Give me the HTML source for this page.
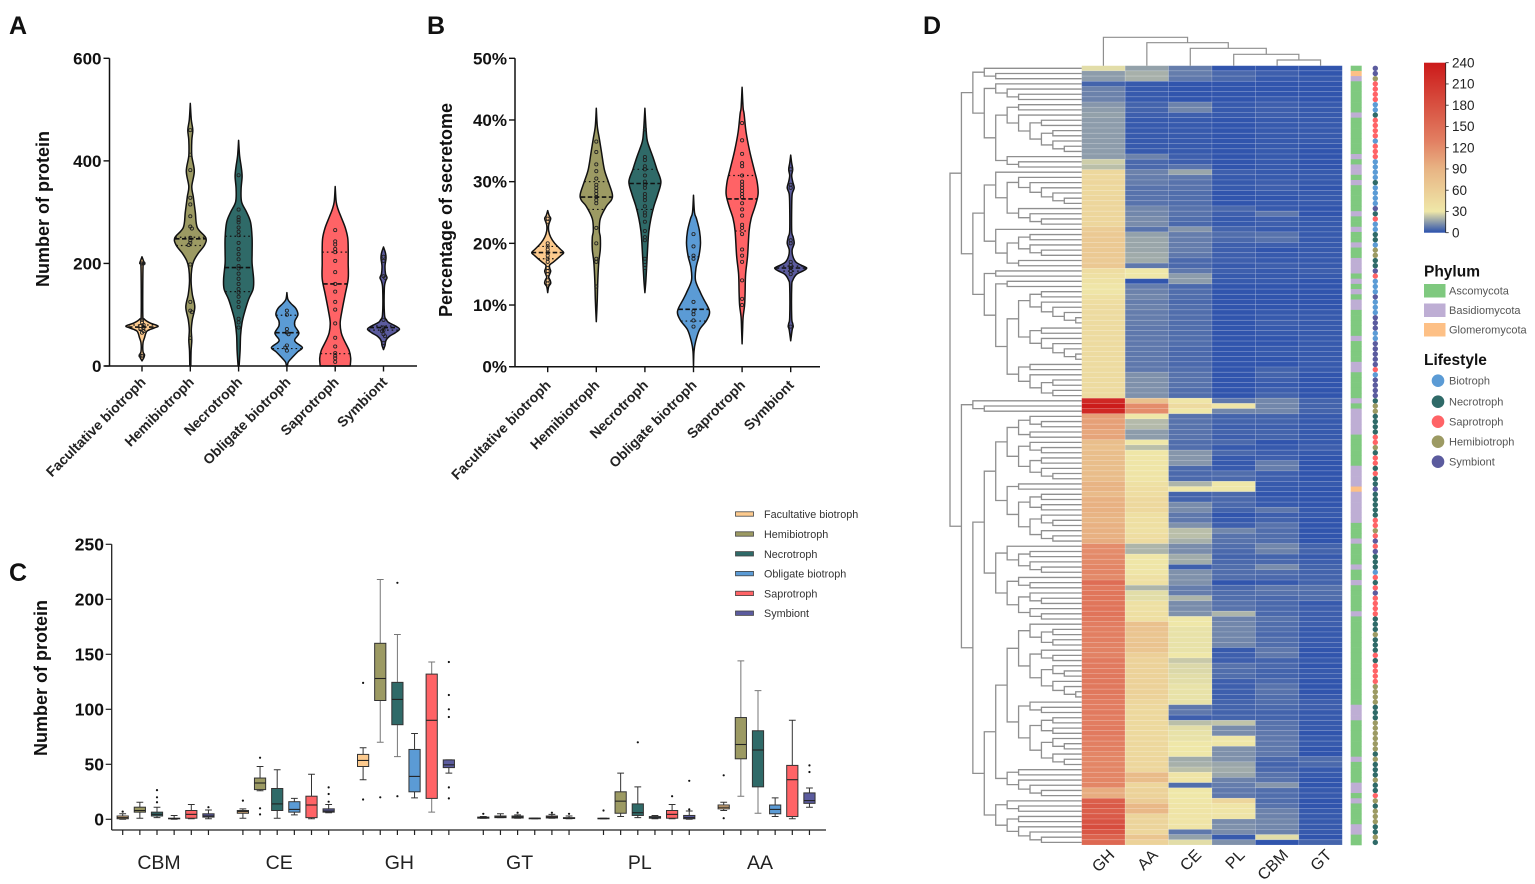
<!DOCTYPE html>
<html lang="en">
<head>
<meta charset="utf-8">
<title>Secretome protein analysis by fungal lifestyle</title>
<style>
html,body{margin:0;padding:0;background:#fff;width:1535px;height:884px;overflow:hidden}
svg{display:block;position:absolute;left:0;top:0;font-family:"Liberation Sans",sans-serif;filter:blur(.35px)}
.panel{font-size:25px;font-weight:700;fill:#111}
.ytitle{font-size:18px;font-weight:700;fill:#111}
.leg{font-size:10.8px;fill:#333}
.leg2{font-size:11px;fill:#555}
.legtitle{font-size:15.5px;font-weight:700;fill:#111}
</style>
</head>
<body>
<svg id="figure" width="1535" height="884" viewBox="0 0 1535 884" xmlns="http://www.w3.org/2000/svg">
  <defs>
    <linearGradient id="heatGrad" x1="0" y1="1" x2="0" y2="0">
      <stop offset="0" stop-color="#2a50ad"/>
      <stop offset="0.125" stop-color="#efe7a8"/>
      <stop offset="0.375" stop-color="#e8b484"/>
      <stop offset="0.54" stop-color="#e27f62"/>
      <stop offset="1" stop-color="#cc1a1a"/>
    </linearGradient>
  </defs>
  <text class="panel" x="9" y="34">A</text>
  <text class="panel" x="427" y="34">B</text>
  <text class="panel" x="9" y="581">C</text>
  <text class="panel" x="923" y="34">D</text>

  <text class="ytitle" transform="translate(49,209) rotate(-90)" text-anchor="middle">Number of protein</text>
  <text class="ytitle" transform="translate(452,210) rotate(-90)" text-anchor="middle">Percentage of secretome</text>
  <text class="ytitle" transform="translate(47,678) rotate(-90)" text-anchor="middle">Number of protein</text>

  <g id="panelA"></g>
  <g id="panelB"></g>
  <g id="panelC"></g>
  <g id="panelD"></g>

  <g>
    <g><rect x="735.5" y="511.8" width="18" height="4.4" fill="#fcca8e" stroke="#444" stroke-width=".8"/><text class="leg" x="764" y="518">Facultative biotroph</text></g>
    <g><rect x="735.5" y="531.8" width="18" height="4.4" fill="#9c9a63" stroke="#444" stroke-width=".8"/><text class="leg" x="764" y="538">Hemibiotroph</text></g>
    <g><rect x="735.5" y="551.6" width="18" height="4.4" fill="#2f6a68" stroke="#444" stroke-width=".8"/><text class="leg" x="764" y="558">Necrotroph</text></g>
    <g><rect x="735.5" y="571.4" width="18" height="4.4" fill="#5b9bd5" stroke="#444" stroke-width=".8"/><text class="leg" x="764" y="577.6">Obligate biotroph</text></g>
    <g><rect x="735.5" y="591.2" width="18" height="4.4" fill="#ff6366" stroke="#444" stroke-width=".8"/><text class="leg" x="764" y="597.4">Saprotroph</text></g>
    <g><rect x="735.5" y="611" width="18" height="4.4" fill="#5b5b9e" stroke="#444" stroke-width=".8"/><text class="leg" x="764" y="617">Symbiont</text></g>
  </g>

  <g>
    <rect x="1424" y="62.7" width="21.7" height="170" fill="url(#heatGrad)"/>
    <line x1="1445.7" x2="1445.7" y1="62.7" y2="232.7" stroke="#222" stroke-width=".8"/>
    <g id="colorbarTicks"></g>
  </g>

  <g>
    <text class="legtitle" x="1424" y="276.5">Phylum</text>
    <g><rect x="1424" y="284" width="21.5" height="13.5" fill="#7fc97f"/><text class="leg2" x="1449" y="294.5">Ascomycota</text></g>
    <g><rect x="1424" y="303.5" width="21.5" height="13.5" fill="#beaed4"/><text class="leg2" x="1449" y="314">Basidiomycota</text></g>
    <g><rect x="1424" y="323" width="21.5" height="13.5" fill="#fdc086"/><text class="leg2" x="1449" y="333.5">Glomeromycota</text></g>
  </g>
  <g>
    <text class="legtitle" x="1424" y="365">Lifestyle</text>
    <g><circle cx="1438" cy="380.7" r="6.3" fill="#5b9bd5"/><text class="leg2" x="1449" y="384.7">Biotroph</text></g>
    <g><circle cx="1438" cy="401.7" r="6.3" fill="#2f6a68"/><text class="leg2" x="1449" y="405.7">Necrotroph</text></g>
    <g><circle cx="1438" cy="421.7" r="6.3" fill="#ff6366"/><text class="leg2" x="1449" y="425.7">Saprotroph</text></g>
    <g><circle cx="1438" cy="441.7" r="6.3" fill="#9c9a63"/><text class="leg2" x="1449" y="445.7">Hemibiotroph</text></g>
    <g><circle cx="1438" cy="461.7" r="6.3" fill="#5b5b9e"/><text class="leg2" x="1449" y="465.7">Symbiont</text></g>
  </g>
</svg>
<script>
/* ---------- shared categories ---------- */
const lifestyles = ["Facultative biotroph","Hemibiotroph","Necrotroph","Obligate biotroph","Saprotroph","Symbiont"];
const lifestyleColors = ["#fcca8e","#9c9a63","#2f6a68","#5b9bd5","#ff6366","#5b5b9e"];

/* ---------- Panel A violins ---------- */
const panelATicks = [0,200,400,600];
const panelALevels = [
 [213,205,200,192,100,92,84,78,74,68,55,45,28,22,17,10],
 [512,480,460,440,410,380,350,330,300,270,250,235,220,205,190,165,140,115,90,70,50,30,0],
 [440,410,390,370,345,320,300,280,250,220,200,170,150,130,105,85,60,30,0],
 [143,130,122,112,100,88,78,64,52,46,36,28,18,8,0],
 [350,320,305,290,270,250,230,200,170,140,110,85,65,50,30,15,0],
 [232,220,210,195,180,172,165,150,100,90,85,78,72,65,58,50,40,32]
];
const panelADensity = [
 [0,1.5,2.2,1,.8,2,8,16,12,5,2.5,1,1,2.5,2,0],
 [0,1,2.5,1.5,1.5,4,1.5,3,5,7,15.5,14,8,3.5,1.5,.8,2,4.5,2,1,1.5,.8,.5],
 [0,1,2.5,3.5,2.5,3,8,12,13.5,13.5,13.5,15,14.5,10,6,3.5,2,1.5,.5],
 [0,1,4,9,11,8,8,12,8,9,15.5,11,6,1.5,.5],
 [0,1,3,6,10,12.5,13,13,13,10,7,5,6,9,14,15.5,15],
 [0,2,2.5,1.5,2,3.5,2,.8,1,3,5,12,16,12,6,2.5,1.5,0]
];
const panelAMedian = [76,248,192,65,160,75];
const panelAQ1 = [70,235,145,34,24,70];
const panelAQ3 = [80,251,253,99,222,78];
const panelAPoints = [
 [200,200,20,20,65,68,72,75,78,80,85,90],
 [460,412,382,328,315,292,272,268,250,245,240,236,198,125,108,105,55],
 [372,305,290,285,280,270,262,255,240,228,218,208,195,190,180,170,160,150,143,135,125,115,92,85,75],
 [108,100,72,65,62,40,36,30],
 [265,243,237,228,222,205,183,160,145,125,110,83,55,38,25,20,15,8],
 [213,205,175,172,90,75,70,68,62,58,45]
];

/* ---------- Panel B violins ---------- */
const panelBTicks = [0,10,20,30,40,50];
const panelBLevels = [
 [25.3,24.5,24,23,22,21,20,19,18.5,18,17,16.5,16,15.5,15,14.5,14,13.5,13,12],
 [41.9,39,37,35,32,30,28,27,26,24,22,21,19,17,14,11,9,7.3],
 [41.9,39,37,36,34,32,30,28,26,24,22,20,17,14,12],
 [27.8,25,24,22,20,18,16,14,12,11,9,7.5,6,4,2.5,0],
 [45.3,42,41,38,35,32,30,28,26,24,22,18,15,12,10,8,6,3.7],
 [34.3,33,32,31,30,29,28,26,22,21,20,19,18,17,16.5,16,15.5,15,14,13,8,7,6.5,6,4.2]
];
const panelBDensity = [
 [0,1.5,3,1,1,3,7,13,16,13,6,2,2,3,2,1,2.5,3,1,0],
 [0,1,3,5,8,12,16,15,10,4,3,4,4,2.5,1.5,1,.5,0],
 [0,1,2,3.5,8,12,16,13,9,6,4,3,2,1,0],
 [0,1,3,6,7,5.5,2.5,2,7,10,16,13,6,2,.5,0],
 [0,1,2,4,7.5,12,15,16,13,9,7,5.5,3.5,3,2.5,1,.5,0],
 [0,1,2,1,2,3.5,1.5,1,1,2.5,3.5,1.5,2,5,10,16,12,6,2,1,1,2,2.5,1.5,0]
];
const panelBMedian = [18.5,27.5,29.7,9.3,27.2,16];
const panelBQ1 = [17.5,25.5,25.5,7.4,22,15.5];
const panelBQ3 = [19.5,30,32,17.8,31,16.3];
const panelBPoints = [
 [24,23.5,20,19.5,19,18.5,18,17.5,17,16,15.5,15,14,13.5],
 [36.5,34.8,32.8,31.7,30.5,29.5,29,28.5,28,27.5,27,26.5,22.5,20,17.5,17,13],
 [38.5,34,33.5,32.5,32,31,30,29.5,29,28,27.5,27,26,25,24.5,23.5,22,21,20.5,17.5,16.5,16],
 [21.5,19.5,18,17.5,10.5,9,8.5,7.5,6.5],
 [39.5,36.7,34.5,33,32.5,31,30,29.5,29,28.5,28,27.5,26.5,25.5,24.5,23,22.5,21.5,19,18,17,14,11,10],
 [32,29.5,29,20.5,20,17,16.5,16,15.5,15,6.5]
];

/* ---------- Panel C boxes: one row per enzyme family, one value per lifestyle ---------- */
const families = ["CBM","CE","GH","GT","PL","AA"];
const panelCTicks = [0,50,100,150,200,250];
const boxLow = [
 [0,1,1.5,0,.5,.5],[1,26,1,4,.5,6],[36,70,57,19.5,6.5,42],
 [1,1.5,1,.5,1,.5],[.5,2.5,1.5,.5,.5,0],[8,21,5.5,2.5,.5,11]];
const boxQ1 = [
 [.5,6.5,3,.5,1,2],[5.5,27,8,6.5,1.5,6.5],[48,108,86,25,19,47],
 [1,1.5,1.2,.7,1.2,.7],[.5,5.5,3.5,1,1,.5],[9.5,55,29.5,5,2.5,14.5]];
const boxMedian = [
 [1.5,8,4.5,.7,4.5,3],[7,33,14,9,13,7.5],[53.5,128,109,39,90,49.5],
 [1.5,2,2,1,2,1],[.7,16.5,6,1.5,4.5,1.5],[11,68,63,9,36,17]];
const boxQ3 = [
 [3,11,6.5,1,8,5],[8,37.5,28,16,21,9.5],[59,160,124.5,63.5,132,54],
 [2,3,3,1,3,1.5],[1,25,14,2.5,8,3.5],[13,92.5,80.5,13,49,24]];
const boxHigh = [
 [5,15.5,11,3.5,13.5,8.5],[9.5,48,45,19,41,13.5],[65,218,168,78,143,54],
 [2.5,5,4,1,4.5,3],[1,42,29.5,3.5,13.5,7.5],[15.5,144,117,19.5,90,28.5]];
const boxOutliers = [
 [[7],[],[15.5,20,26.5],[],[],[11]],
 [[17],[56,10,4.5],[],[],[],[16,23,29]],
 [[18,124],[20],[215,21],[],[],[143,113,100,93,29,19]],
 [[5],[],[6],[],[6],[5]],
 [[8],[],[70],[],[21],[9,35]],
 [[1,40],[],[],[],[],[43,49]]
];

/* ---------- Panel D heatmap ---------- */
const heatColumns = ["GH","AA","CE","PL","CBM","GT"];
const colorbarTicks = [0,30,60,90,120,150,180,210,240];
const valuesGH = [28,15,15,4,10,10,10,14,15,16, 15,15,15,15,15,15,15,15,25,22,
 48,48,50,48,48,50,50,50,50,50, 50,62,65,65,65,65,65,64,66,42,
 38,36,32,32,38,42,44,44,44,44, 44,44,44,44,44,44,44,44,44,44,
 44,44,44,44,225,238,225,105,105,105, 100,102,78,76,78,78,78,78,80,80,
 90,90,82,92,92,92,90,88,92,92, 92,95,120,120,122,122,125,125,122,150,
 135,140,140,140,142,142,138,132,130,130, 130,128,128,128,135,135,135,138,138,138,
 138,135,132,132,135,132,132,135,135,132, 130,130,125,125,125,125,125,125,125,95,
 95,165,170,165,170,178,185,175,160,155];
const valuesAA = [16,19,19,2,2,2,2,4,4,3, 2,2,2,2,2,2,2,10,5,5,
 10,9,9,7,7,7,7,11,11,12, 12,7,16,17,17,17,18,18,8,30,
 30,1,9,10,11,9,10,9,9,9, 8,8,8,8,8,8,8,8,8,13,
 13,13,13,13,75,120,120,30,21,21, 15,15,30,22,31,32,32,32,34,34,
 38,42,42,48,48,48,40,40,40,38, 42,44,20,20,31,31,32,32,38,38,
 20,28,28,38,38,40,40,75,72,70, 70,72,70,58,55,55,55,55,56,56,
 56,55,50,48,48,48,46,46,46,48, 48,48,48,50,50,50,82,80,50,55,
 55,62,85,85,52,52,52,50,70,55];
const valuesCE = [9,9,8,1,1,1,1,10,11,3, 2,2,2,2,2,2,2,3,3,7,
 17,8,7,7,6,6,6,7,7,6, 5,14,9,9,9,9,8,5,5,8,
 15,15,5,6,6,5,6,6,6,6, 6,6,6,6,5,5,5,5,6,7,
 7,7,6,6,32,45,30,7,7,7, 7,7,6,6,14,14,14,5,5,5,
 20,30,4,4,12,12,8,8,13,22, 22,19,12,12,18,18,3,13,13,13,
 9,9,20,12,12,13,30,30,29,29, 29,29,29,30,24,27,27,28,28,29,
 29,29,29,8,8,3,22,28,29,29, 30,30,30,18,19,22,33,33,6,30,
 30,31,33,34,34,33,33,8,16,28];
const valuesPL = [1,5,5,1,1,1,1,2,2,2, 1,1,1,1,1,1,1,1,1,1,
 3,2,2,2,1,1,1,5,3,2, 2,4,6,5,3,3,3,3,2,3,
 2,2,1,1,1,1,1,1,1,1, 1,1,1,1,1,1,1,1,1,1,
 1,1,1,1,8,32,11,4,4,3, 4,3,5,2,5,2,2,2,6,5,
 30,30,5,5,5,4,1,2,3,11, 7,7,6,5,4,5,6,6,6,1,
 5,6,6,7,7,20,10,11,11,11, 11,11,2,3,3,7,6,6,3,3,
 3,3,4,4,4,4,23,12,12,31, 31,13,13,13,17,18,17,10,9,8,
 8,50,34,34,33,12,13,12,2,13];
const valuesCBM = [1,3,2,1,1,1,2,3,3,3, 2,2,2,2,2,2,2,2,2,2,
 2,2,3,3,2,1,2,2,8,3, 3,2,7,7,3,1,2,2,3,2,
 2,2,1,1,1,1,1,2,2,3, 2,2,1,1,2,2,1,1,4,4,
 3,2,3,4,11,11,11,4,4,3, 4,4,1,2,3,3,9,9,3,3,
 2,2,1,2,2,8,3,4,7,6, 6,6,11,10,4,5,12,6,5,2,
 8,7,5,5,5,5,7,6,6,5, 6,6,8,8,4,5,4,4,5,7,
 7,6,6,5,4,4,7,7,8,8, 8,8,8,5,4,5,7,7,14,6,
 6,6,7,10,10,11,11,10,28,1];
const valuesGT = [1,1,2,1,1,1,1,2,2,2, 2,2,2,2,2,1,1,1,1,1,
 2,2,2,1,2,2,2,1,1,2, 2,2,2,2,2,2,2,2,2,3,
 2,1,1,1,1,1,1,2,2,2, 2,2,2,2,2,2,2,2,2,1,
 1,1,1,1,4,4,4,2,2,2, 2,2,2,3,2,1,1,1,1,1,
 2,1,1,1,1,2,2,1,1,1, 1,1,4,4,2,3,4,4,4,4,
 7,6,6,2,3,3,3,3,2,2, 2,2,1,1,2,1,2,2,1,1,
 1,2,3,3,2,2,2,2,1,2, 2,1,1,6,5,2,2,1,1,2,
 2,1,1,2,2,2,2,2,1,4];
const heatValues = [valuesGH,valuesAA,valuesCE,valuesPL,valuesCBM,valuesGT];

/* per-row annotation: A Ascomycota, B Basidiomycota, G Glomeromycota */
const phylumRows = ("A G B AAAAAA B AAAAAAA B A BB A B AAAAA B AA B AA B AA BBB A B A B A BB AAAAA B AAAA BB AAAAA B A BBBBB AAAAAA BBBB G BBBBBB AAA B AAAA B AA B AAAAA B AAAAAAAAAAAAAAAAA BBB AAAAAAA B AAAA BB A B AAAA BB AA").replace(/ /g,"");
/* per-row annotation: B Biotroph, N Necrotroph, S Saprotroph, H Hemibiotroph, Y Symbiont */
const lifestyleRows = ("YY H SSSS BB N SSSS B SSS BBBB N BBBB Y N S BB NN B HH NN Y S BBB Y BBB Y YY BB YYYYY S B YYYY N HH NNNN SS H N SS N S NN Y NNNNN SS H S Y S Y NNN B S N S Y S SSS NNN H NNN S N SSSS HHHH NNN HHHHHH N H NNN H NN S H N HHH NN H N").replace(/ /g,"");

/* row dendrogram: [mergeDepth, childA, childB], 0 = leaf */
const rowTree = [0,
 [1,
  [2,[3,0,[4,0,0]],[3,[4,0,[5,0,[6,0,0]]],[4,[5,[6,0,0],[6,0,[7,[8,0,0],[8,[9,0,0],[9,0,[10,0,0]]]]]],[5,0,[6,0,0]]]]],
  [2,
   [3,[4,0,[5,[6,0,[7,0,[8,0,[9,0,[10,0,0]]]]],[6,0,[7,0,[8,0,0]]]]],
      [4,0,[5,[6,[7,0,0],[7,0,[8,0,0]]],[6,0,0]]]],
   [3,[4,0,0],
      [4,[5,0,0],[5,[6,[7,[8,0,0],[8,0,[9,0,[10,0,[11,0,0]]]]],[7,[8,0,0],[8,0,[9,0,[10,0,[11,0,0]]]]]],[6,[7,0,0],[7,0,[8,[9,0,0],[9,0,0]]]]]]]]],
 [1,
  [2,0,[3,0,0]],
  [2,
   [3,[4,[5,[6,[7,0,[8,0,0]],[7,0,0]],[6,[7,0,[8,0,0]],[7,[8,0,0],[8,0,[9,0,0]]]]],[5,[6,0,0],[6,[7,[8,0,0],[8,0,0]],[7,[8,0,[9,0,0]],[8,0,[9,0,0]]]]]],
      [4,[5,0,[6,[7,0,0],[7,0,[8,0,0]]]],[5,[6,0,[7,0,0]],[6,[7,0,[8,0,0]],[7,0,[8,0,0]]]]]],
   [3,[4,[5,[6,[7,0,[8,[9,0,0],[9,0,0]]],[7,[8,0,[9,0,0]],[8,[9,0,[10,0,0]],[9,0,[10,0,[11,0,0]]]]]],[6,[7,0,[8,0,0]],[7,[8,[9,0,0],[9,0,0]],[8,[9,0,[10,0,0]],[9,0,[10,0,0]]]]]],[5,[6,0,0],[6,0,[7,0,[8,0,0]]]]],
      [4,[5,0,[6,0,0]],[5,[6,0,0],[6,0,[7,0,[8,0,0]]]]]]]]];
/* column dendrogram merge distances, root first */
const colMergeDistances = [28.4,23,17.4,11.4,5.7];

/* ---------- helpers ---------- */
const NS = "http://www.w3.org/2000/svg";
function mk(tag, parent, attrs, text){
  const n = document.createElementNS(NS, tag);
  for (const k in attrs) n.setAttribute(k, attrs[k]);
  if (text !== undefined) n.textContent = text;
  parent.appendChild(n);
  return n;
}
function slug(s){ return s.toLowerCase().replace(/\s+/g,"-"); }
function smooth(pts){
  let d = "M"+pts[0][0].toFixed(2)+" "+pts[0][1].toFixed(2);
  for (let i=0;i<pts.length-1;i++){
    const p0=pts[Math.max(i-1,0)],p1=pts[i],p2=pts[i+1],p3=pts[Math.min(i+2,pts.length-1)];
    const c1x=p1[0]+(p2[0]-p0[0])/6,c1y=p1[1]+(p2[1]-p0[1])/6,c2x=p2[0]-(p3[0]-p1[0])/6,c2y=p2[1]-(p3[1]-p1[1])/6;
    d+=" C"+c1x.toFixed(2)+" "+c1y.toFixed(2)+" "+c2x.toFixed(2)+" "+c2y.toFixed(2)+" "+p2[0].toFixed(2)+" "+p2[1].toFixed(2);
  }
  return d;
}
function densityAt(levels,dens,v){
  for (let i=0;i<levels.length-1;i++){
    if (v<=levels[i] && v>=levels[i+1]){
      const t=(levels[i]-v)/(levels[i]-levels[i+1]);
      return dens[i]+(dens[i+1]-dens[i])*t;
    }
  }
  return 0;
}

/* ---------- violin panel ---------- */
function violinPanel(cfg){
  const g = cfg.group;
  const x = cfg.x, y = cfg.y;
  lifestyles.forEach((name,i)=>{
    const levels=cfg.levels[i], dens=cfg.density[i], cx=x(i);
    const right=levels.map((v,k)=>[cx+dens[k],y(v)]);
    const left=levels.map((v,k)=>[cx-dens[k],y(v)]).reverse();
    const vg=mk("g",g,{});
    
    
    const shape=mk("path",vg,{d:smooth(right)+" L"+left[0][0].toFixed(2)+" "+left[0][1].toFixed(2)+smooth(left).replace(/^M[^C]*/," ")+" Z",fill:lifestyleColors[i],stroke:"#111","stroke-width":1.5,"stroke-linejoin":"round"});
    
    
    let lastY=-99,side=1;
    cfg.points[i].forEach(v=>{
      const py=y(v);
      let off=0;
      if (Math.abs(py-lastY)<2.4){ off=side*1.6; side=-side; }
      lastY=py;
      const pt=mk("circle",vg,{cx:cx+off,cy:py,r:1.6,fill:"none",stroke:"#222","stroke-width":.85});
      
      
    });
    [[cfg.q1[i],"1.6 3",1.2],[cfg.q3[i],"1.6 3",1.2],[cfg.median[i],"4.5 2.5",1.6]].forEach(q=>{
      const w=densityAt(levels,dens,q[0]);
      const ln=mk("line",vg,{x1:cx-w,x2:cx+w,y1:y(q[0]),y2:y(q[0]),stroke:"#111","stroke-width":q[2],"stroke-dasharray":q[1]});
      
      
    });
    const tick=mk("line",g,{x1:cx,x2:cx,y1:cfg.y0,y2:cfg.y0+5.5,stroke:"#111","stroke-width":1.4});
    
    
    const lbl=mk("text",g,{x:cx+cfg.labelDx,y:cfg.labelY,"text-anchor":"end",transform:"rotate(-45 "+(cx+cfg.labelDx)+" "+cfg.labelY+")","font-size":14,"font-weight":700,fill:"#222"},name);
    
    
  });
  const yAxis=mk("line",g,{x1:cfg.axisX,x2:cfg.axisX,y1:y(cfg.ticks[cfg.ticks.length-1]),y2:cfg.y0,stroke:"#111","stroke-width":1.5});
  
  
  const xAxis=mk("line",g,{x1:cfg.axisX-5,x2:cfg.axisEnd,y1:cfg.y0,y2:cfg.y0,stroke:"#111","stroke-width":1.5});
  
  
  cfg.ticks.forEach(t=>{
    const tk=mk("line",g,{x1:cfg.axisX-6,x2:cfg.axisX,y1:y(t),y2:y(t),stroke:"#111","stroke-width":1.4});
    
    
    const tl=mk("text",g,{x:cfg.axisX-8,y:y(t)+6,"text-anchor":"end","font-size":17,"font-weight":700,fill:"#111"},t+cfg.suffix);
    
    
  });
}
violinPanel({group:document.getElementById("panelA"),x:i=>142+i*48.3,y:v=>366-v*307.7/600,y0:366,axisX:109.5,axisEnd:417,labelDx:4.5,labelY:383,ticks:panelATicks,suffix:"",
  levels:panelALevels,density:panelADensity,median:panelAMedian,q1:panelAQ1,q3:panelAQ3,points:panelAPoints});
violinPanel({group:document.getElementById("panelB"),x:i=>547.7+i*48.6,y:v=>366.7-v*308.4/50,y0:366.7,axisX:515,axisEnd:820,labelDx:4,labelY:386,ticks:panelBTicks,suffix:"%",
  levels:panelBLevels,density:panelBDensity,median:panelBMedian,q1:panelBQ1,q3:panelBQ3,points:panelBPoints});

/* ---------- box panel ---------- */
(function(){
  const g=document.getElementById("panelC");
  const yC=v=>819.3-v*1.1;
  const xC=(f,s)=>122.7+f*120.2+s*17.15;
  const axisX=111.7, axisY=830, halfBox=5.6, halfCap=3.4;
  families.forEach((fam,f)=>{
    lifestyles.forEach((name,s)=>{
      const cx=xC(f,s);
      const bg=mk("g",g,{});
      
      
      const tall=boxHigh[f][s]>100;
      const whisk=tall?"#777":"#333";
      const w=mk("path",bg,{d:"M"+cx+" "+yC(boxHigh[f][s])+"V"+yC(boxLow[f][s])+"M"+(cx-halfCap)+" "+yC(boxHigh[f][s])+"H"+(cx+halfCap)+"M"+(cx-halfCap)+" "+yC(boxLow[f][s])+"H"+(cx+halfCap),stroke:whisk,"stroke-width":1,fill:"none"});
      
      
      const r=mk("rect",bg,{x:cx-halfBox,y:yC(boxQ3[f][s]),width:halfBox*2,height:Math.max(yC(boxQ1[f][s])-yC(boxQ3[f][s]),.6),fill:lifestyleColors[s],stroke:"#333","stroke-width":1});
      
      
      const m=mk("line",bg,{x1:cx-halfBox,x2:cx+halfBox,y1:yC(boxMedian[f][s]),y2:yC(boxMedian[f][s]),stroke:"#222","stroke-width":1.1});
      
      
      boxOutliers[f][s].forEach(v=>{
        const o=mk("circle",bg,{cx:cx,cy:yC(v),r:1.1,fill:"#111"});
        
        
      });
      const t=mk("line",g,{x1:cx,x2:cx,y1:axisY,y2:axisY+5,stroke:"#222","stroke-width":1.2});
      
      
    });
    const lab=mk("text",g,{x:xC(f,2)+2,y:869,"text-anchor":"middle","font-size":19.5,fill:"#222"},fam);
    
    
  });
  const yAx=mk("line",g,{x1:axisX,x2:axisX,y1:yC(250),y2:axisY,stroke:"#222","stroke-width":1.3});
  
  
  const xAx=mk("line",g,{x1:axisX,x2:826,y1:axisY,y2:axisY,stroke:"#222","stroke-width":1.3});
  
  
  panelCTicks.forEach(t=>{
    const tk=mk("line",g,{x1:axisX-6,x2:axisX,y1:yC(t),y2:yC(t),stroke:"#222","stroke-width":1.2});
    
    
    const tl=mk("text",g,{x:104,y:yC(t)+6,"text-anchor":"end","font-size":17.5,"font-weight":700,fill:"#111"},t);
    
    
  });
})();

/* ---------- heatmap panel ---------- */
const heatStops = [[0,[42,80,173]],[30,[239,231,168]],[90,[232,180,132]],[130,[226,127,98]],[240,[204,26,26]]];
function heatColor(v){
  for (let i=0;i<heatStops.length-1;i++){
    const a=heatStops[i],b=heatStops[i+1];
    if (v<=b[0]){
      const t=(v-a[0])/(b[0]-a[0]);
      const c=a[1].map((q,k)=>Math.round(q+(b[1][k]-q)*t));
      return "rgb("+c.join(",")+")";
    }
  }
  return "rgb(204,26,26)";
}
(function(){
  const g=document.getElementById("panelD");
  const top=65.7, bottom=845, left=1081.7, colW=43.43;
  const nRows=valuesGH.length, rowH=(bottom-top)/nRows;
  const xCol=c=>left+c*colW;
  const yRow=r=>top+r*rowH;
  const phylumColor={A:"#7fc97f",B:"#beaed4",G:"#fdc086"};
  const lifestyleColor={B:"#5b9bd5",N:"#2f6a68",S:"#ff6366",H:"#9c9a63",Y:"#5b5b9e"};

  const cells=mk("g",g,{});
  
  
  heatColumns.forEach((name,c)=>{
    heatValues[c].forEach((v,r)=>{
      const cell=mk("rect",cells,{x:xCol(c),y:yRow(r),width:colW,height:rowH,fill:heatColor(v),stroke:"rgba(255,255,255,.2)","stroke-width":.7});
      
      
    });
    const lab=mk("text",g,{x:xCol(c)+colW/2+12,y:856,"text-anchor":"end",transform:"rotate(-45 "+(xCol(c)+colW/2+12)+" 856)","font-size":16,fill:"#222"},name);
    
    
  });

  phylumRows.split("").forEach((p,r)=>{
    const b=mk("rect",g,{x:1350.7,y:yRow(r),width:11,height:rowH+.3,fill:phylumColor[p]});
    
    
  });
  lifestyleRows.split("").forEach((l,r)=>{
    const d=mk("circle",g,{cx:1375.3,cy:yRow(r)+rowH/2,r:2.7,fill:lifestyleColor[l]});
    
    
  });

  /* row dendrogram */
  const rowDend=mk("g",g,{fill:"none",stroke:"#8f8f8f","stroke-width":1.3});
  
  
  const depthX=d=>950+d*11.43;
  let leafIndex=0;
  function drawNode(node){
    if (node===0){
      const y=yRow(leafIndex)+rowH/2;
      leafIndex++;
      return {y:y,x:left};
    }
    const a=drawNode(node[1]), b=drawNode(node[2]);
    const x=depthX(node[0]);
    const br=mk("path",rowDend,{d:"M"+a.x+" "+a.y+"H"+x+"V"+b.y+"H"+b.x});
    
    
    return {y:(a.y+b.y)/2,x:x};
  }
  drawNode(rowTree);

  /* column dendrogram */
  const colDend=mk("g",g,{fill:"none",stroke:"#8f8f8f","stroke-width":1.2});
  
  
  let cx=xCol(5)+colW/2, cy=top;
  for (let i=colMergeDistances.length-1;i>=0;i--){
    const lx=xCol(i)+colW/2, h=top-colMergeDistances[i];
    const br=mk("path",colDend,{d:"M"+lx+" "+top+"V"+h+"H"+cx+"V"+cy});
    
    
    cx=(lx+cx)/2; cy=h;
  }

  /* colorbar ticks */
  const cb=document.getElementById("colorbarTicks");
  const yBar=v=>232.7-v*170/240;
  colorbarTicks.forEach(t=>{
    const tk=mk("line",cb,{x1:1445.7,x2:1448.7,y1:yBar(t),y2:yBar(t),stroke:"#222","stroke-width":.8});
    
    
    const tl=mk("text",cb,{x:1452,y:yBar(t)+4.6,"font-size":13.5,fill:"#222"},t);
    
    
  });
})();
</script>
</body>
</html>
